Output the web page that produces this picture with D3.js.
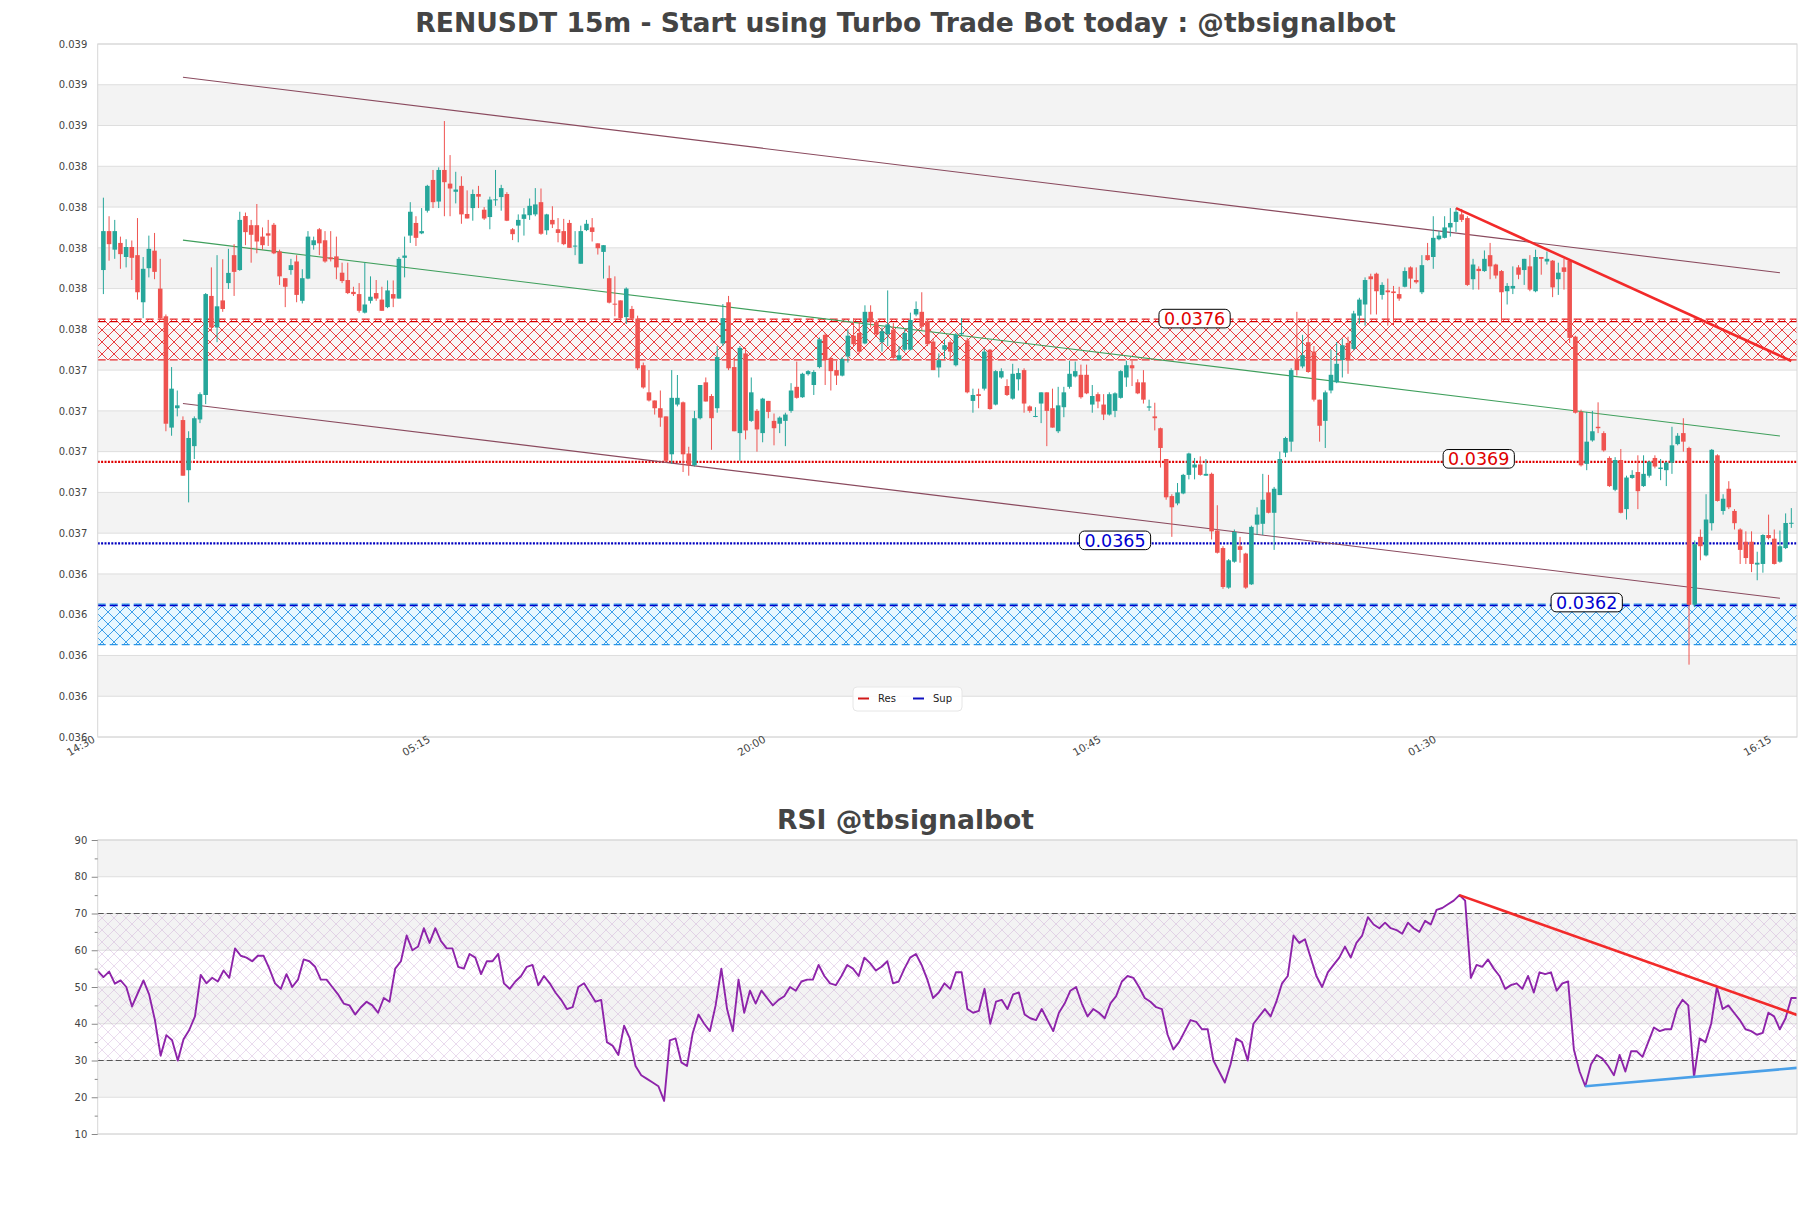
<!DOCTYPE html>
<html><head><meta charset="utf-8">
<script src="https://cdn.jsdelivr.net/npm/d3@7"></script>
<style>body{margin:0;background:#fff}svg{display:block}text{font-family:"DejaVu Sans",sans-serif}</style>
</head><body><svg id="c" width="1811" height="1208"></svg>
<script>
// ---------------- data ----------------
const candleOpen = [0.037841,0.038032,0.037941,0.037974,0.037905,0.037954,0.037914,0.037683,0.03785,0.037936,
0.03775,0.037614,0.037068,0.037163,0.037105,0.036859,0.036977,0.037108,0.037228,0.037714,
0.037559,0.037692,0.037777,0.037914,0.037841,0.038106,0.038061,0.038061,0.038005,0.038021,
0.038063,0.037932,0.037801,0.037841,0.037883,0.03769,0.037799,0.037963,0.038041,0.037987,
0.037903,0.037908,0.037828,0.037792,0.037734,0.037723,0.037632,0.03769,0.037728,0.037696,
0.037659,0.037723,0.037701,0.037901,0.03801,0.038072,0.038021,0.038132,0.038283,0.038177,
0.038332,0.038265,0.038225,0.038254,0.038116,0.038145,0.038214,0.038137,0.038101,0.038185,
0.038199,0.038214,0.038041,0.038059,0.038092,0.03811,0.038114,0.038174,0.038036,0.038087,
0.038041,0.038032,0.038072,0.037957,0.037872,0.038037,0.03805,0.037972,0.03793,0.037801,
0.037676,0.037692,0.03761,0.03765,0.037603,0.037374,0.037241,0.037201,0.037163,0.037123,
0.036937,0.037181,0.037192,0.036941,0.036883,0.037114,0.03729,0.037223,0.037163,0.037481,
0.037683,0.037365,0.037041,0.037432,0.037101,0.03715,0.037041,0.037199,0.037101,0.037087,
0.037101,0.03715,0.037268,0.037217,0.03733,0.037277,0.037365,0.037523,0.03741,0.03735,
0.037323,0.037417,0.037519,0.037532,0.037481,0.037636,0.037587,0.037487,0.037526,0.037548,
0.037399,0.03745,0.03745,0.037623,0.037636,0.037592,0.03749,0.037363,0.03745,0.037487,
0.037374,0.037526,0.037496,0.037199,0.037232,0.037259,0.03745,0.037181,0.037314,0.037272,
0.03721,0.037305,0.03735,0.037172,0.037121,0.037186,0.037241,0.037163,0.03705,0.037168,
0.037268,0.037319,0.037327,0.037327,0.037181,0.037232,0.037181,0.037132,0.03715,0.037214,
0.037314,0.037374,0.03729,0.03729,0.037166,0.037123,0.037065,0.036914,0.036732,0.036696,
0.036745,0.036836,0.036872,0.036887,0.036832,0.036841,0.036563,0.036477,0.036283,0.03641,
0.036486,0.03645,0.036299,0.036592,0.036596,0.03675,0.03665,0.036737,0.036945,0.036999,
0.037405,0.037368,0.037487,0.037441,0.037205,0.037101,0.03725,0.03729,0.037399,0.037483,
0.037454,0.037617,0.037672,0.03781,0.037823,0.037719,0.037741,0.037736,0.037723,0.037759,
0.037854,0.037792,0.037732,0.037914,0.037905,0.037992,0.037999,0.03805,0.038077,0.038114,
0.038096,0.037796,0.037847,0.037836,0.037914,0.037868,0.037836,0.037737,0.03775,0.037854,
0.037841,0.037859,0.037737,0.037905,0.037883,0.037887,0.037796,0.037854,0.037887,0.037514,
0.037145,0.03689,0.037005,0.037072,0.037041,0.036919,0.036763,0.036909,0.036668,0.036821,
0.03685,0.036781,0.036832,0.036919,0.036865,0.036859,0.036896,0.036987,0.037041,0.036968,
0.036199,0.036532,0.036441,0.036599,0.036932,0.036659,0.036768,0.036659,0.036568,0.036508,
0.036508,0.036396,0.036399,0.036541,0.036523,0.03641,0.036477,0.036598];
const candleHigh = [0.038196,0.038105,0.038087,0.038005,0.037992,0.037986,0.038096,0.037905,0.03801,0.038023,
0.037896,0.037623,0.037365,0.03725,0.037123,0.03705,0.037123,0.037241,0.037728,0.037854,
0.037914,0.037894,0.037945,0.037968,0.038127,0.038123,0.038087,0.038165,0.03805,0.038087,
0.038072,0.037941,0.037801,0.037896,0.037914,0.037845,0.038032,0.038005,0.038047,0.038032,
0.038032,0.038005,0.037877,0.037877,0.037759,0.037777,0.037877,0.03781,0.037792,0.037759,
0.03779,0.03779,0.037905,0.038005,0.038174,0.038105,0.038145,0.038259,0.038332,0.038345,
0.038572,0.038405,0.038323,0.038301,0.038232,0.038236,0.038254,0.03815,0.038201,0.038332,
0.038259,0.038223,0.038047,0.038114,0.038145,0.038192,0.038243,0.038241,0.038117,0.038154,
0.038096,0.038092,0.038087,0.038032,0.038059,0.038087,0.038096,0.037972,0.037963,0.037863,
0.03781,0.037692,0.037756,0.037665,0.037617,0.037387,0.03735,0.037201,0.03725,0.037123,
0.03735,0.037326,0.037196,0.036974,0.03715,0.037277,0.037314,0.037232,0.037468,0.037674,
0.037714,0.03741,0.037468,0.037459,0.037314,0.037159,0.037214,0.037199,0.037137,0.037123,
0.037141,0.037286,0.037392,0.037337,0.03735,0.03735,0.03751,0.037532,0.037414,0.037396,
0.037414,0.03755,0.037605,0.037587,0.037668,0.037668,0.037596,0.037559,0.037741,0.037581,
0.037468,0.03755,0.037632,0.037687,0.037732,0.037596,0.037505,0.037432,0.037501,0.037496,
0.037532,0.037605,0.037508,0.037259,0.037259,0.037454,0.037454,0.03735,0.037359,0.037305,
0.037381,0.037359,0.037359,0.037177,0.037168,0.037241,0.037241,0.037259,0.037268,0.037268,
0.037396,0.037392,0.037377,0.037377,0.037277,0.037241,0.037232,0.037241,0.037241,0.03735,
0.037396,0.037396,0.037305,0.03735,0.037205,0.03719,0.037068,0.036914,0.036741,0.036796,
0.036841,0.036945,0.036919,0.036927,0.036914,0.036847,0.036687,0.036486,0.036423,0.036568,
0.036532,0.036454,0.036587,0.036677,0.036841,0.036836,0.036777,0.03695,0.037023,0.037359,
0.037636,0.037523,0.037599,0.037468,0.037205,0.03725,0.03745,0.037487,0.037505,0.037514,
0.037641,0.037705,0.037805,0.037823,0.037828,0.037781,0.037799,0.037763,0.037759,0.037854,
0.037859,0.037854,0.037914,0.037974,0.038105,0.038032,0.038105,0.038145,0.038145,0.038141,
0.038105,0.037896,0.037859,0.037937,0.037974,0.037872,0.037841,0.037777,0.037859,0.037865,
0.037896,0.037914,0.037941,0.037905,0.037932,0.03789,0.037877,0.037896,0.037896,0.037519,
0.037156,0.037145,0.03715,0.037192,0.03705,0.036927,0.036923,0.036963,0.036832,0.036859,
0.036932,0.036932,0.036905,0.036932,0.036914,0.036901,0.037072,0.037041,0.037114,0.036974,
0.036514,0.036568,0.036741,0.036963,0.036937,0.036741,0.036805,0.036668,0.036574,0.036559,
0.036559,0.036459,0.036545,0.036641,0.036568,0.036563,0.036647,0.036673];
const candleLow = [0.037723,0.037887,0.037896,0.037847,0.037854,0.037792,0.037696,0.037605,0.037805,0.037796,
0.037596,0.03705,0.037028,0.037123,0.036832,0.036701,0.036914,0.03709,0.037183,0.037541,
0.037487,0.037636,0.037748,0.037714,0.037837,0.037963,0.037877,0.037923,0.037941,0.037959,
0.037919,0.037768,0.037659,0.037818,0.037683,0.037677,0.037796,0.037941,0.037914,0.037877,
0.037883,0.037796,0.037777,0.037723,0.037714,0.037632,0.037628,0.037677,0.03769,0.037641,
0.037654,0.037659,0.037701,0.037805,0.037974,0.037959,0.038017,0.038123,0.038145,0.038145,
0.038105,0.038105,0.038168,0.038068,0.038094,0.038083,0.038145,0.038087,0.038041,0.038156,
0.038132,0.038081,0.037988,0.037977,0.03801,0.038087,0.038105,0.038014,0.038014,0.038047,
0.037977,0.037963,0.03795,0.037914,0.037872,0.038032,0.037981,0.037917,0.037799,0.037677,
0.037614,0.037596,0.037577,0.037596,0.03735,0.037259,0.037196,0.037132,0.037072,0.036896,
0.03689,0.037172,0.03685,0.036832,0.036877,0.037108,0.037196,0.036959,0.037141,0.037468,
0.03735,0.03705,0.036905,0.03701,0.037096,0.03695,0.036996,0.037114,0.036981,0.037041,
0.036977,0.037141,0.03721,0.037214,0.037323,0.037228,0.037359,0.037277,0.03725,0.037277,
0.037319,0.037387,0.037468,0.037432,0.037477,0.037559,0.037519,0.037441,0.037468,0.037405,
0.037396,0.037441,0.037447,0.037614,0.037545,0.037468,0.03735,0.037314,0.037405,0.037396,
0.037368,0.037519,0.037236,0.037141,0.037163,0.03725,0.037156,0.037177,0.037308,0.037223,
0.037205,0.03725,0.037141,0.037141,0.037119,0.03709,0.036977,0.037068,0.037041,0.037119,
0.037259,0.037314,0.03721,0.037232,0.037141,0.037163,0.037105,0.037127,0.037119,0.03721,
0.037268,0.037272,0.037232,0.037186,0.03715,0.037054,0.036872,0.036714,0.036532,0.036687,
0.036741,0.036814,0.036814,0.036832,0.036832,0.036519,0.03645,0.036277,0.036277,0.036405,
0.036405,0.036277,0.036296,0.036541,0.036541,0.036647,0.036468,0.036737,0.036923,0.03695,
0.037323,0.037359,0.037337,0.037196,0.036999,0.036968,0.037236,0.037286,0.037314,0.037332,
0.037447,0.037577,0.037568,0.037623,0.037623,0.037696,0.037568,0.037568,0.03769,0.037756,
0.03775,0.037774,0.037723,0.037887,0.037847,0.037987,0.037996,0.038005,0.038028,0.038077,
0.037763,0.037745,0.037745,0.037832,0.037796,0.037799,0.037581,0.037672,0.037723,0.037796,
0.037768,0.037737,0.037732,0.037818,0.037868,0.037708,0.037719,0.037745,0.037483,0.037137,
0.036877,0.036859,0.036999,0.037041,0.03695,0.036777,0.036756,0.036647,0.036617,0.036817,
0.036668,0.036777,0.036823,0.036868,0.03681,0.036781,0.036841,0.036981,0.03695,0.035905,
0.036187,0.036417,0.036436,0.036563,0.036705,0.036641,0.036668,0.036568,0.036399,0.036399,
0.036359,0.036319,0.036356,0.036519,0.036396,0.036405,0.036472,0.036576];
const candleClose = [0.038032,0.037968,0.038032,0.037919,0.037954,0.037901,0.037732,0.037847,0.037945,0.037832,
0.037605,0.037087,0.037259,0.037177,0.036832,0.037017,0.037114,0.037232,0.037723,0.037559,
0.037663,0.03765,0.037827,0.037832,0.038087,0.038027,0.038014,0.037981,0.037963,0.03801,
0.037923,0.03781,0.037759,0.037865,0.037719,0.037801,0.038005,0.037987,0.037972,0.037883,
0.037894,0.037854,0.037787,0.037728,0.037723,0.037641,0.037672,0.03771,0.037701,0.037641,
0.037741,0.037701,0.037896,0.037912,0.038127,0.037999,0.038032,0.038254,0.038174,0.038332,
0.038272,0.038241,0.038236,0.038114,0.038094,0.038214,0.038201,0.038094,0.038187,0.038188,
0.038243,0.038083,0.038017,0.038087,0.038114,0.038156,0.038163,0.038019,0.038114,0.038065,
0.038023,0.037968,0.03795,0.037961,0.038032,0.038068,0.038028,0.037948,0.037963,0.037681,
0.037674,0.037605,0.03775,0.037603,0.037359,0.037265,0.037201,0.037163,0.037117,0.036905,
0.037214,0.037214,0.036937,0.036883,0.037114,0.037277,0.037196,0.037114,0.037414,0.037605,
0.037359,0.03705,0.037459,0.037054,0.037241,0.037059,0.03721,0.037145,0.037065,0.037117,
0.037132,0.03725,0.037214,0.037332,0.037345,0.037341,0.037501,0.037399,0.037345,0.037323,
0.037405,0.037519,0.037477,0.037441,0.037636,0.037587,0.037526,0.037541,0.037574,0.03741,
0.037423,0.037532,0.037596,0.03765,0.037563,0.037477,0.03735,0.037399,0.037472,0.037441,
0.037523,0.037532,0.037241,0.037228,0.037223,0.037441,0.037159,0.037345,0.037345,0.037228,
0.037332,0.037336,0.037186,0.03715,0.037125,0.037241,0.03715,0.037068,0.037177,0.037241,
0.037332,0.037345,0.037217,0.037236,0.037223,0.037196,0.037132,0.037232,0.037236,0.037345,
0.037374,0.037359,0.037236,0.037205,0.037172,0.037114,0.036968,0.036726,0.036677,0.03675,
0.036836,0.036941,0.036887,0.036836,0.036841,0.036559,0.036454,0.036286,0.036417,0.036556,
0.036468,0.036283,0.036581,0.036641,0.036714,0.03665,0.036768,0.036914,0.037017,0.03735,
0.03735,0.037423,0.037341,0.037205,0.037077,0.037241,0.037327,0.037381,0.037472,0.037399,
0.037628,0.037696,0.037792,0.037796,0.037737,0.037768,0.037732,0.037728,0.037701,0.037836,
0.037799,0.037781,0.037865,0.03789,0.037999,0.03801,0.03805,0.038072,0.038127,0.038087,
0.037768,0.037868,0.037836,0.037896,0.037859,0.037814,0.037732,0.037763,0.037763,0.037818,
0.037896,0.037745,0.037905,0.037896,0.037896,0.037756,0.037828,0.037832,0.037508,0.037141,
0.036883,0.036999,0.03705,0.037065,0.036956,0.036781,0.036909,0.03665,0.036823,0.036836,
0.036756,0.036841,0.036901,0.036877,0.036872,0.036896,0.036981,0.037028,0.036999,0.036199,
0.036496,0.036486,0.036617,0.036959,0.036708,0.036719,0.036677,0.036599,0.036468,0.036428,
0.036399,0.036405,0.036541,0.036526,0.036399,0.036486,0.0366,0.036601];

const rsiValues = [54.4,52.7,54.2,50.9,51.8,50.0,44.7,48.3,51.8,47.9,
41.0,31.3,36.9,35.5,30.0,35.8,38.3,42.0,53.3,51.0,
52.5,51.5,54.5,52.5,60.5,58.5,58.0,57.0,58.5,58.5,
55.0,51.0,49.5,53.5,50.0,52.0,57.5,57.0,55.5,52.0,
52.0,50.0,48.0,45.5,45.0,42.5,44.5,46.0,45.0,43.0,
47.0,46.0,55.0,57.0,64.0,60.0,61.0,66.0,62.0,66.0,
62.5,60.5,60.5,55.5,55.0,59.0,58.0,53.5,57.0,57.0,
59.0,51.0,49.5,51.5,53.0,55.5,56.0,50.5,53.0,51.0,
48.5,46.5,44.0,44.5,50.0,51.0,48.5,46.0,46.5,35.0,
34.0,31.5,39.5,36.0,28.5,26.0,25.0,24.0,23.0,19.0,
35.5,36.0,29.5,28.5,37.5,42.5,40.0,38.0,45.0,55.0,
44.0,38.0,52.0,43.0,49.0,45.5,49.0,47.0,45.0,46.5,
47.5,50.0,49.0,51.5,52.0,52.0,56.0,53.0,51.0,50.5,
53.0,56.0,55.0,53.0,58.0,56.5,54.5,55.5,57.0,51.0,
51.5,55.0,58.0,59.0,56.0,52.0,47.0,48.5,51.0,49.5,
54.0,54.0,44.0,43.0,43.5,49.5,40.0,46.0,46.5,44.0,
48.0,48.5,42.5,41.5,41.0,44.0,41.0,38.0,43.0,45.5,
49.0,50.0,45.5,42.0,44.0,43.0,41.5,45.5,47.5,51.5,
53.0,52.5,50.0,47.0,46.0,44.5,44.0,37.0,33.0,35.0,
38.0,41.0,40.5,38.5,38.5,30.0,27.0,24.0,29.0,36.0,
35.0,30.0,40.0,42.0,44.0,42.0,46.0,51.0,53.0,64.0,
62.0,63.0,58.0,53.0,50.0,54.0,56.0,58.0,61.0,58.0,
62.0,64.0,69.0,67.0,66.0,67.5,66.0,65.5,64.5,67.5,
66.0,65.0,68.0,67.0,71.0,71.5,72.5,73.5,75.0,73.5,
52.5,56.0,55.5,57.5,55.0,53.0,49.5,50.5,51.0,49.5,
53.0,48.5,54.0,53.5,54.0,49.0,51.0,51.5,33.0,27.0,
23.0,29.0,31.5,30.5,28.5,26.0,31.5,27.0,32.5,32.5,
31.0,35.0,39.0,38.0,38.5,38.5,44.0,46.5,45.0,25.5,
36.0,35.0,40.0,50.0,44.0,45.0,43.0,41.0,38.5,38.0,
37.0,37.5,43.0,42.0,38.5,41.5,47.0,47.0];

const xTickIndex = [-1, 58, 117, 176, 235, 294];
const xTickLabels = ["14:30", "05:15", "20:00", "10:45", "01:30", "16:15"];
const priceTicks = [0.03555,0.03575,0.03595,0.03615,0.03635,0.03655,0.03675,0.03695,0.03715,0.03735,
                    0.03755,0.03775,0.03795,0.03815,0.03835,0.03855,0.03875,0.03895];
const priceTickLabels = ["0.036","0.036","0.036","0.036","0.036","0.037","0.037","0.037","0.037","0.037",
                         "0.038","0.038","0.038","0.038","0.038","0.039","0.039","0.039"];
const rsiTicks = [10, 20, 30, 40, 50, 60, 70, 80, 90];
const rsiMinorTicks = [15, 25, 35, 45, 55, 65, 75, 85];

// channel and trend lines: [candle index, price]
const channelUpper = [[14, 0.0387865], [295, 0.0378277]];
const channelMiddle = [[14, 0.0379877], [295, 0.0370270]];
const channelLower = [[14, 0.0371860], [295, 0.0362310]];
const priceTrend = [[238, 0.038145], [297, 0.037395]];
const rsiTrendHigh = [[238, 75.0], [297, 42.4]];
const rsiTrendLow = [[260, 23.0], [297, 28.0]];

// support / resistance
const resZone = [0.03740, 0.03760];
const resZoneLevel = 0.037588;
const resLevel = 0.036900;
const supLevel = 0.036500;
const supZone = [0.036003, 0.036202];
const supZoneLevel = 0.036195;
const levelLabelAt = {res1: 192, res2: 242, sup1: 178, sup2: 261};
const rsiBounds = [30, 70];

// ---------------- drawing ----------------
const svg = d3.select("#c");
const M = {l: 97.7, r: 1797, t: 44, b: 737};
const R = {l: 97.7, r: 1797, t: 840, b: 1134};
const n = candleOpen.length;
const x = d3.scaleLinear().domain([-1, 298]).range([M.l, M.r]);
const y = d3.scaleLinear().domain([priceTicks[0], priceTicks[priceTicks.length - 1]]).range([M.b, M.t]);
const xr = d3.scaleLinear().domain([0, rsiValues.length - 1]).range([R.l, R.r]);
const yr = d3.scaleLinear().domain([10, 90]).range([R.b, R.t]);

const defs = svg.append("defs");
function hatch(id, color, bg, sw) {
  const p = defs.append("pattern").attr("id", id).attr("patternUnits", "userSpaceOnUse")
    .attr("width", 12).attr("height", 12);
  if (bg) p.append("rect").attr("width", 12).attr("height", 12).attr("fill", bg);
  p.append("path").attr("d", "M0,0L12,12M12,0L0,12").attr("stroke", color)
    .attr("stroke-width", sw).attr("fill", "none");
}
hatch("hRed", "#e8282a", "rgba(255,255,255,0.35)", 0.9);
hatch("hBlue", "#2a95e6", "#e9f8ff", 0.9);
hatch("hRsi", "rgba(185,135,200,0.38)", null, 0.8);
defs.append("clipPath").attr("id", "clipM").append("rect")
  .attr("x", M.l).attr("y", M.t).attr("width", M.r - M.l).attr("height", M.b - M.t);
defs.append("clipPath").attr("id", "clipR").append("rect")
  .attr("x", R.l).attr("y", R.t).attr("width", R.r - R.l).attr("height", R.b - R.t);

// titles
svg.append("text").attr("x", 905.5).attr("y", 32.3).attr("text-anchor", "middle")
  .attr("font-size", 26.6).attr("font-weight", "bold").attr("fill", "#444")
  .text("RENUSDT 15m - Start using Turbo Trade Bot today : @tbsignalbot");
svg.append("text").attr("x", 905.5).attr("y", 829).attr("text-anchor", "middle")
  .attr("font-size", 26.6).attr("font-weight", "bold").attr("fill", "#444")
  .text("RSI @tbsignalbot");

// ---- main panel ----
const gm = svg.append("g");
const bandIdx = d3.range(priceTicks.length - 1).filter(j => j % 2 === 1);
gm.selectAll("rect.band").data(bandIdx).join("rect").attr("class", "band")
  .attr("x", M.l).attr("width", M.r - M.l)
  .attr("y", j => y(priceTicks[j + 1])).attr("height", j => y(priceTicks[j]) - y(priceTicks[j + 1]))
  .attr("fill", "#f3f3f3");
gm.selectAll("line.grid").data(priceTicks).join("line").attr("class", "grid")
  .attr("x1", M.l).attr("x2", M.r).attr("y1", d => y(d)).attr("y2", d => y(d))
  .attr("stroke", "#dedede").attr("stroke-width", 1);

const gc = gm.append("g").attr("clip-path", "url(#clipM)");
// zones
gc.append("rect").attr("x", M.l).attr("width", M.r - M.l)
  .attr("y", y(resZone[1])).attr("height", y(resZone[0]) - y(resZone[1])).attr("fill", "url(#hRed)");
gc.append("rect").attr("x", M.l).attr("width", M.r - M.l)
  .attr("y", y(supZone[1])).attr("height", y(supZone[0]) - y(supZone[1])).attr("fill", "url(#hBlue)");
function hline(v, color, w, dash) {
  gc.append("line").attr("x1", M.l).attr("x2", M.r).attr("y1", y(v)).attr("y2", y(v))
    .attr("stroke", color).attr("stroke-width", w).attr("stroke-dasharray", dash);
}
hline(resZone[1], "#e8282a", 1.2, "8,4");
hline(resZone[0], "#e8282a", 1.2, "8,4");
hline(resZoneLevel, "#d40000", 1.4, "8,4");
hline(supZone[1], "#2a95e6", 1.2, "8,4");
hline(supZone[0], "#2a95e6", 1.2, "8,4");
hline(supZoneLevel, "#0000c8", 1.6, "8,4");
hline(resLevel, "#e00000", 2.2, "2,1.4");
hline(supLevel, "#0000c0", 2.2, "2,1.4");

// channel lines
const lineM = d3.line().x(d => x(d[0])).y(d => y(d[1]));
gc.append("path").attr("d", lineM(channelUpper)).attr("stroke", "#8a4a5e").attr("stroke-width", 1.1).attr("fill", "none");
gc.append("path").attr("d", lineM(channelLower)).attr("stroke", "#8a4a5e").attr("stroke-width", 1.1).attr("fill", "none");
gc.append("path").attr("d", lineM(channelMiddle)).attr("stroke", "#3f9f5c").attr("stroke-width", 1.1).attr("fill", "none");

// candles
const up = "#26a69a", dn = "#ef5350";
const idx = d3.range(n);
const bw = (x(1) - x(0)) * 0.8;
const cg = gc.append("g");
cg.selectAll("line.wick").data(idx).join("line").attr("class", "wick")
  .attr("x1", i => x(i)).attr("x2", i => x(i))
  .attr("y1", i => y(candleHigh[i])).attr("y2", i => y(candleLow[i]))
  .attr("stroke", i => candleClose[i] >= candleOpen[i] ? up : dn).attr("stroke-width", 1);
cg.selectAll("rect.body").data(idx).join("rect").attr("class", "body")
  .attr("x", i => x(i) - bw / 2).attr("width", bw)
  .attr("y", i => y(Math.max(candleOpen[i], candleClose[i])))
  .attr("height", i => Math.max(1, Math.abs(y(candleOpen[i]) - y(candleClose[i]))))
  .attr("fill", i => candleClose[i] >= candleOpen[i] ? up : dn);

gc.append("path").attr("d", lineM(priceTrend)).attr("stroke", "#f22a2a").attr("stroke-width", 2.6).attr("fill", "none");

// level labels
const fmt = d3.format(".4f");
function levelLabel(v, at, color) {
  const g = gm.append("g");
  const t = g.append("text").attr("x", x(at)).attr("y", y(v) - 3).attr("dy", "0.36em")
    .attr("text-anchor", "middle").attr("font-size", 17.5).attr("fill", color).text(fmt(v));
  const bb = t.node().getBBox();
  g.insert("rect", "text").attr("x", bb.x - 5).attr("y", y(v) - 3 - 9.3).attr("width", bb.width + 10)
    .attr("height", 18.6).attr("rx", 5).attr("fill", "#fff").attr("stroke", "#000").attr("stroke-width", 1);
}
levelLabel(resZoneLevel, levelLabelAt.res1, "#e00000");
levelLabel(resLevel, levelLabelAt.res2, "#e00000");
levelLabel(supLevel, levelLabelAt.sup1, "#0000d0");
levelLabel(supZoneLevel, levelLabelAt.sup2, "#0000d0");

// frame
gm.append("rect").attr("x", M.l).attr("y", M.t).attr("width", M.r - M.l).attr("height", M.b - M.t)
  .attr("fill", "none").attr("stroke", "#d6d6d6").attr("stroke-width", 1);

// axes
const ya = gm.append("g").attr("transform", `translate(${M.l},0)`)
  .call(d3.axisLeft(y).tickValues(priceTicks).tickFormat((d, i) => priceTickLabels[i]).tickSize(0).tickPadding(10.4));
ya.select(".domain").remove();
ya.selectAll("text").attr("font-size", 10).attr("fill", "#444").attr("font-family", "DejaVu Sans");

const xa = gm.append("g").attr("transform", `translate(0,${M.b})`)
  .call(d3.axisBottom(x).tickValues(xTickIndex).tickFormat((d, i) => xTickLabels[i]).tickSize(0));
xa.select(".domain").remove();
xa.selectAll("text").attr("y", null).attr("dy", null).attr("text-anchor", "end")
  .attr("transform", "translate(-2.4,4.3) rotate(-30)")
  .attr("font-size", 10.5).attr("fill", "#444").attr("font-family", "DejaVu Sans");

// legend
const lg = gm.append("g");
lg.append("rect").attr("x", 853).attr("y", 687).attr("width", 109).attr("height", 24).attr("rx", 4)
  .attr("fill", "#fff").attr("fill-opacity", 0.85).attr("stroke", "#e6e6e6");
const legendItems = [{name: "Res", color: "#d01818", x: 858}, {name: "Sup", color: "#1010c0", x: 913}];
legendItems.forEach(it => {
  lg.append("line").attr("x1", it.x).attr("x2", it.x + 11).attr("y1", 698.5).attr("y2", 698.5)
    .attr("stroke", it.color).attr("stroke-width", 2);
  lg.append("text").attr("x", it.x + 20).attr("y", 702).attr("font-size", 10).attr("fill", "#222").text(it.name);
});

// ---- RSI panel ----
const gr = svg.append("g");
const rsiBands = [[20, 30], [40, 50], [60, 70], [80, 90]];
gr.selectAll("rect.band").data(rsiBands).join("rect").attr("class", "band")
  .attr("x", R.l).attr("width", R.r - R.l).attr("y", d => yr(d[1])).attr("height", d => yr(d[0]) - yr(d[1]))
  .attr("fill", "#f3f3f3");
gr.selectAll("line.grid").data(rsiTicks).join("line").attr("class", "grid")
  .attr("x1", R.l).attr("x2", R.r).attr("y1", d => yr(d)).attr("y2", d => yr(d))
  .attr("stroke", "#dedede").attr("stroke-width", 1);
gr.append("rect").attr("x", R.l).attr("width", R.r - R.l).attr("y", yr(rsiBounds[1]))
  .attr("height", yr(rsiBounds[0]) - yr(rsiBounds[1])).attr("fill", "url(#hRsi)");
rsiBounds.forEach(v => gr.append("line").attr("x1", R.l).attr("x2", R.r).attr("y1", yr(v)).attr("y2", yr(v))
  .attr("stroke", "#555").attr("stroke-width", 1.2).attr("stroke-dasharray", "6,3"));
const grc = gr.append("g").attr("clip-path", "url(#clipR)");
grc.append("path").attr("d", d3.line().x((d, i) => xr(i)).y(d => yr(d))(rsiValues))
  .attr("stroke", "#8e24aa").attr("stroke-width", 1.9).attr("fill", "none").attr("stroke-linejoin", "round");
const lineR = d3.line().x(d => xr(d[0])).y(d => yr(d[1]));
grc.append("path").attr("d", lineR(rsiTrendHigh)).attr("stroke", "#f22a2a").attr("stroke-width", 2.6).attr("fill", "none");
grc.append("path").attr("d", lineR(rsiTrendLow)).attr("stroke", "#4aa0e8").attr("stroke-width", 2.6).attr("fill", "none");
gr.append("rect").attr("x", R.l).attr("y", R.t).attr("width", R.r - R.l).attr("height", R.b - R.t)
  .attr("fill", "none").attr("stroke", "#d6d6d6").attr("stroke-width", 1);
const ra = gr.append("g").attr("transform", `translate(${R.l},0)`)
  .call(d3.axisLeft(yr).tickValues(rsiTicks).tickFormat(d3.format("d")).tickSize(6).tickPadding(4.4));
ra.select(".domain").remove();
ra.selectAll("line").attr("stroke", "#888");
ra.selectAll("text").attr("font-size", 10).attr("fill", "#444").attr("font-family", "DejaVu Sans");
const rm = gr.append("g").attr("transform", `translate(${R.l},0)`)
  .call(d3.axisLeft(yr).tickValues(rsiMinorTicks).tickFormat("").tickSize(3));
rm.select(".domain").remove();
rm.selectAll("line").attr("stroke", "#888");
</script>
</body></html>
